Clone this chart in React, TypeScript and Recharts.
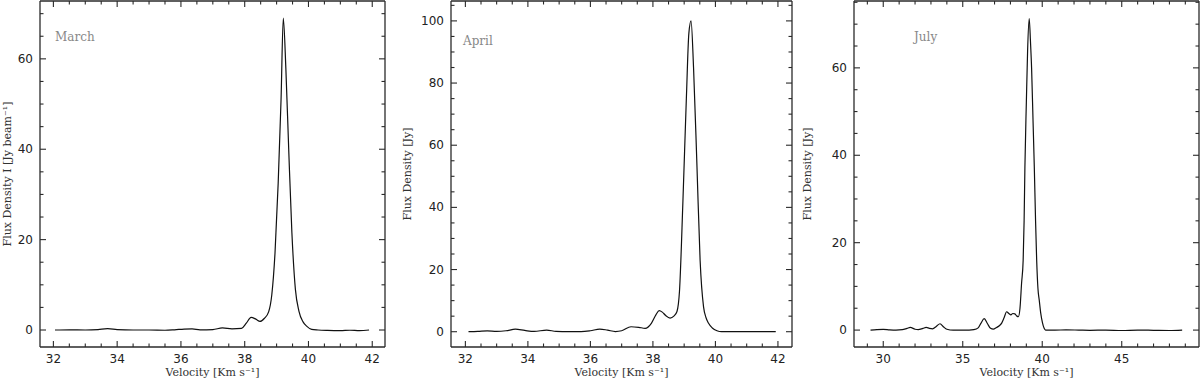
import { Line, LineChart, XAxis, YAxis } from "recharts";

// spectra (velocity in km/s, flux in Jy)
const marchVelocity = [32.05, 32.5, 33.0, 33.4, 33.7, 34.0, 34.5, 35.0, 35.5, 35.8, 36.1, 36.35, 36.6, 37.0, 37.3, 37.6, 37.9, 38.05, 38.2, 38.35, 38.48, 38.62, 38.75, 38.85, 38.95, 39.05, 39.14, 39.21, 39.29, 39.38, 39.48, 39.59, 39.7, 39.83, 39.95, 40.1, 40.3, 40.6, 41.0, 41.3, 41.6, 41.9];
const marchFlux = [0, 0.05, 0, 0.1, 0.3, 0.1, 0, 0, -0.05, 0.05, 0.2, 0.25, 0.05, 0.1, 0.45, 0.25, 0.35, 1.5, 2.8, 2.4, 1.9, 2.6, 4.0, 7.8, 17, 32.5, 51, 69, 58, 40, 21.5, 9, 4.2, 1.8, 0.8, 0.15, 0, -0.1, -0.15, -0.05, -0.15, 0];

const aprilVelocity = [32.1, 32.4, 32.7, 33.0, 33.3, 33.6, 33.9, 34.2, 34.6, 34.9, 35.3, 35.7, 36.0, 36.3, 36.55, 36.8, 37.0, 37.3, 37.55, 37.75, 37.95, 38.1, 38.2, 38.3, 38.4, 38.55, 38.67, 38.77, 38.85, 38.96, 39.07, 39.15, 39.22, 39.3, 39.41, 39.51, 39.62, 39.7, 39.78, 39.9, 40.05, 40.2, 40.6, 41.0, 41.5, 41.93];
const aprilFlux = [0, 0.1, 0.3, 0.1, 0.3, 0.8, 0.4, 0.1, 0.5, 0.1, 0, 0, 0.3, 0.85, 0.5, 0.05, 0.3, 1.6, 1.4, 1.1, 2.7, 5.5, 6.8, 6.3, 5.3, 4.4, 5, 6.5, 13, 42, 75, 96, 100, 85, 53, 23, 8, 4.5, 2.7, 1.2, 0.3, 0, 0, 0, 0, 0];

const julyVelocity = [29.2, 29.6, 30.0, 30.4, 30.8, 31.2, 31.5, 31.7, 32.0, 32.2, 32.5, 32.7, 32.9, 33.1, 33.35, 33.57, 33.8, 34.0, 34.4, 35.0, 35.4, 35.7, 35.97, 36.15, 36.35, 36.55, 36.75, 36.92, 37.13, 37.3, 37.45, 37.6, 37.76, 37.9, 38.03, 38.15, 38.28, 38.4, 38.5, 38.6, 38.7, 38.8, 38.86, 38.91, 39.0, 39.08, 39.18, 39.26, 39.33, 39.42, 39.5, 39.58, 39.65, 39.73, 39.81, 39.9, 40.02, 40.12, 40.21, 40.8, 41.5, 42.3, 43.0, 44.0, 45.0, 46.0, 47.0, 48.0, 48.8];
const julyFlux = [0, 0.1, 0.15, 0.05, 0, 0.1, 0.4, 0.6, 0.2, 0.1, 0.4, 0.6, 0.4, 0.3, 0.9, 1.45, 0.7, 0.2, 0, 0, 0, 0.1, 0.5, 1.6, 2.6, 1.5, 0.4, 0.2, 0.6, 1.0, 1.6, 2.8, 4.2, 3.8, 3.5, 3.8, 3.7, 3.2, 3.1, 5, 10.7, 16, 25, 37.4, 52, 64, 71.3, 66, 60, 48, 37.4, 25, 16, 9.5, 6.9, 4, 1.6, 0.4, 0, 0, 0.05, 0, -0.05, 0, -0.1, 0, -0.05, -0.1, 0];

// tick values
const velMajor = [32, 34, 36, 38, 40, 42];
const velMinor = [32.5, 33, 33.5, 34.5, 35, 35.5, 36.5, 37, 37.5, 38.5, 39, 39.5, 40.5, 41, 41.5];
const julyVelMajor = [30, 35, 40, 45];
const julyVelMinor = [29, 31, 32, 33, 34, 36, 37, 38, 39, 41, 42, 43, 44, 46, 47, 48, 49];
const fluxMajor70 = [0, 20, 40, 60];
const fluxMinor70 = [5, 10, 15, 25, 30, 35, 45, 50, 55, 65, 70];
const fluxMajor100 = [0, 20, 40, 60, 80, 100];
const fluxMinor100 = [5, 10, 15, 25, 30, 35, 45, 50, 55, 65, 70, 75, 85, 90, 95, 105];
const julyFluxMinor = [5, 10, 15, 25, 30, 35, 45, 50, 55, 65, 70, 75];

const FRAME = "#2a2a2a";
const TICK_FONT = "'DejaVu Sans', sans-serif";
const LABEL_FONT = "'DejaVu Serif', serif";

type Side = "bottom" | "top" | "left" | "right";

// inward tick marks, long for major values
function tickMark(side: Side, major: number[]) {
  return (props: any) => {
    const x = Number(props.x);
    const y = Number(props.y);
    const len = major.includes(props.payload.value) ? 6 : 3.5;
    let d = "";
    if (side === "bottom") d = `M${x},${y}L${x},${y - len}`;
    if (side === "top") d = `M${x},${y}L${x},${y + len}`;
    if (side === "left") d = `M${x},${y}L${x + len},${y}`;
    if (side === "right") d = `M${x},${y}L${x - len},${y}`;
    return <path d={d} stroke={FRAME} strokeWidth={1.1} fill="none" />;
  };
}

function tickLabel(side: "bottom" | "left") {
  return (props: any) => {
    const x = Number(props.x);
    const y = Number(props.y);
    return side === "bottom" ? (
      <text x={x} y={y + 15} textAnchor="middle" fontSize={12} fontFamily={TICK_FONT} fill="#222">
        {props.payload.value}
      </text>
    ) : (
      <text x={x - 6} y={y + 4} textAnchor="end" fontSize={12} fontFamily={TICK_FONT} fill="#222">
        {props.payload.value}
      </text>
    );
  };
}

type PanelProps = {
  left: number;
  velocity: number[];
  flux: number[];
  xDomain: [number, number];
  yDomain: [number, number];
  xMajor: number[];
  xMinor: number[];
  yMajor: number[];
  yMinor: number[];
  axisWidth: number;
  marginRight: number;
  yLabel: string;
  month: string;
  monthX: number;
  monthY: number;
};

function Panel(p: PanelProps) {
  const rows = p.velocity.map((v, i) => ({ v, f: p.flux[i] }));
  const xTicks = [...p.xMajor, ...p.xMinor].sort((a, b) => a - b);
  const yTicks = [...p.yMajor, ...p.yMinor].sort((a, b) => a - b);
  const axisLine = { stroke: FRAME, strokeWidth: 1.3 };
  const common = { type: "number" as const, allowDataOverflow: true, interval: 0 as const, tickSize: 0, tickMargin: 0, tickLine: false };
  return (
    <div style={{ position: "absolute", left: p.left, top: 0, width: 400, height: 380 }}>
      <LineChart width={400} height={380} data={rows} margin={{ top: 0, right: p.marginRight, bottom: 0, left: 0 }}>
        {/* labelled axes (outer) */}
        <XAxis
          {...common}
          xAxisId="zb"
          dataKey="v"
          domain={p.xDomain}
          ticks={p.xMajor}
          height={32}
          axisLine={false}
          tick={tickLabel("bottom")}
          label={{
            value: "Velocity [Km s⁻¹]",
            position: "insideBottom",
            offset: 4,
            fontSize: 11,
            fontFamily: LABEL_FONT,
            fill: "#333"
          }}
        />
        <YAxis
          {...common}
          yAxisId="zl"
          dataKey="f"
          domain={p.yDomain}
          ticks={p.yMajor}
          width={p.axisWidth - 1}
          axisLine={false}
          tick={tickLabel("left")}
          label={{
            value: p.yLabel,
            angle: -90,
            position: "insideLeft",
            offset: 7,
            textAnchor: "middle",
            fontSize: 11,
            fontFamily: LABEL_FONT,
            fill: "#333"
          }}
        />
        {/* frame + tick marks (next to the plot) */}
        <XAxis {...common} xAxisId="ab" dataKey="v" domain={p.xDomain} ticks={xTicks} height={1} axisLine={axisLine} tick={tickMark("bottom", p.xMajor)} />
        <XAxis {...common} xAxisId="at" dataKey="v" orientation="top" domain={p.xDomain} ticks={xTicks} height={1} axisLine={axisLine} tick={tickMark("top", p.xMajor)} />
        <YAxis {...common} yAxisId="al" dataKey="f" domain={p.yDomain} ticks={yTicks} width={1} axisLine={axisLine} tick={tickMark("left", p.yMajor)} />
        <YAxis {...common} yAxisId="ar" dataKey="f" orientation="right" domain={p.yDomain} ticks={yTicks} width={1} axisLine={axisLine} tick={tickMark("right", p.yMajor)} />
        <Line
          xAxisId="zb"
          yAxisId="zl"
          dataKey="f"
          type="monotone"
          stroke="#111"
          strokeWidth={1.2}
          dot={false}
          isAnimationActive={false}
        />
      </LineChart>
      <div
        style={{
          position: "absolute",
          left: p.monthX,
          top: p.monthY,
          fontFamily: LABEL_FONT,
          fontSize: 12,
          lineHeight: "12px",
          color: "#888"
        }}
      >
        {p.month}
      </div>
    </div>
  );
}

export default function App() {
  return (
    <div style={{ position: "absolute", left: 0, top: 0, width: 1200, height: 380, background: "#fff" }}>
      <Panel
        left={0}
        velocity={marchVelocity}
        flux={marchFlux}
        xDomain={[31.58, 42.4]}
        yDomain={[-3.76, 72.8]}
        xMajor={velMajor}
        xMinor={velMinor}
        yMajor={fluxMajor70}
        yMinor={fluxMinor70}
        axisWidth={40}
        marginRight={14}
        yLabel="Flux Density I [Jy beam⁻¹]"
        month="March"
        monthX={55}
        monthY={31}
      />
      <Panel
        left={400}
        velocity={aprilVelocity}
        flux={aprilFlux}
        xDomain={[31.54, 42.45]}
        yDomain={[-4.92, 106.4]}
        xMajor={velMajor}
        xMinor={velMinor}
        yMajor={fluxMajor100}
        yMinor={fluxMinor100}
        axisWidth={51}
        marginRight={7}
        yLabel="Flux Density [Jy]"
        month="April"
        monthX={63}
        monthY={35}
      />
      <Panel
        left={800}
        velocity={julyVelocity}
        flux={julyFlux}
        xDomain={[28.16, 49.86]}
        yDomain={[-3.87, 75.3]}
        xMajor={julyVelMajor}
        xMinor={julyVelMinor}
        yMajor={fluxMajor70}
        yMinor={julyFluxMinor}
        axisWidth={54}
        marginRight={0}
        yLabel="Flux Density [Jy]"
        month="July"
        monthX={114}
        monthY={31}
      />
    </div>
  );
}
